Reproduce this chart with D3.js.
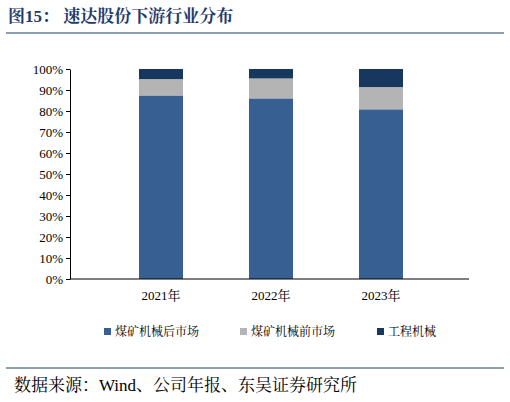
<!DOCTYPE html>
<html><head><meta charset="utf-8">
<script src="https://cdn.jsdelivr.net/npm/d3@7"></script>
<style>body{margin:0;background:#fff;}</style>
</head><body>
<script>
let years = ["2021年", "2022年", "2023年"];
let seriesNames = ["煤矿机械后市场", "煤矿机械前市场", "工程机械"];
let afterMarket = [87.4, 86.0, 80.8];
let frontMarket = [7.8, 9.5, 10.6];
let construction = [4.8, 4.5, 8.6];
let yTicks = [0, 10, 20, 30, 40, 50, 60, 70, 80, 90, 100];
let colors = ["#375f91", "#b4b4b4", "#17375e"];
let serif = "'Liberation Serif','Noto Serif CJK SC','Noto Sans CJK SC',serif";

let svg = d3.select("body").append("svg").attr("width", 510).attr("height", 402)
    .style("font-family", serif);

// title
svg.append("text").attr("x", 8).attr("y", 22)
    .style("font-size", "17px").style("font-weight", "bold").attr("fill", "#1f3c6e")
    .style("font-family", serif)
    .text("图15：  速达股份下游行业分布");
svg.append("line").attr("x1", 6).attr("x2", 504).attr("y1", 33).attr("y2", 33)
    .attr("stroke", "#1f3c6e").attr("stroke-width", 1);

let rows = years.map((y, i) => ({year: y, a: afterMarket[i], b: frontMarket[i], c: construction[i]}));
let stacked = d3.stack().keys(["a", "b", "c"])(rows);

let x = d3.scaleBand().domain(years).range([73, 469]).padding(0.6);
let y = d3.scaleLinear().domain([0, 100]).range([279, 69]);

svg.append("g").selectAll("g").data(stacked).join("g")
    .attr("fill", (d, i) => colors[i])
    .selectAll("rect").data(d => d).join("rect")
    .attr("x", d => x(d.data.year))
    .attr("width", x.bandwidth())
    .attr("y", d => y(d[1]))
    .attr("height", d => y(d[0]) - y(d[1]));

let yAxis = svg.append("g").attr("transform", "translate(70,0)")
    .call(d3.axisLeft(y).tickValues(yTicks).tickFormat(d => d + "%").tickSize(4).tickSizeOuter(0));
yAxis.attr("font-family", null);
yAxis.selectAll("text").style("font-size", "13px").style("font-family", serif).attr("fill", "#000");
yAxis.selectAll("line,path").attr("stroke", "#000");

let xAxis = svg.append("g").attr("transform", "translate(0,279)")
    .call(d3.axisBottom(x).tickSize(0).tickSizeOuter(0).tickPadding(12));
xAxis.attr("font-family", null);
xAxis.select("path").attr("d", "M70,0H469").attr("stroke", "#000");
xAxis.selectAll("text").style("font-size", "13px").style("font-family", serif).attr("fill", "#000");

// legend
let legX = [104, 240, 377];
let leg = svg.append("g").selectAll("g").data(seriesNames).join("g")
    .attr("transform", (d, i) => `translate(${legX[i]},332)`);
leg.append("rect").attr("x", 0).attr("y", -4).attr("width", 7).attr("height", 7)
    .attr("fill", (d, i) => colors[i]);
leg.append("text").attr("x", 11).attr("y", 4).style("font-size", "12px")
    .style("font-family", serif).text(d => d);

svg.append("line").attr("x1", 6).attr("x2", 504).attr("y1", 368).attr("y2", 368)
    .attr("stroke", "#1f3c6e").attr("stroke-width", 1);
svg.append("text").attr("x", 14).attr("y", 391).style("font-size", "17px")
    .style("font-family", serif)
    .text("数据来源：Wind、公司年报、东吴证券研究所");
</script>
</body></html>
